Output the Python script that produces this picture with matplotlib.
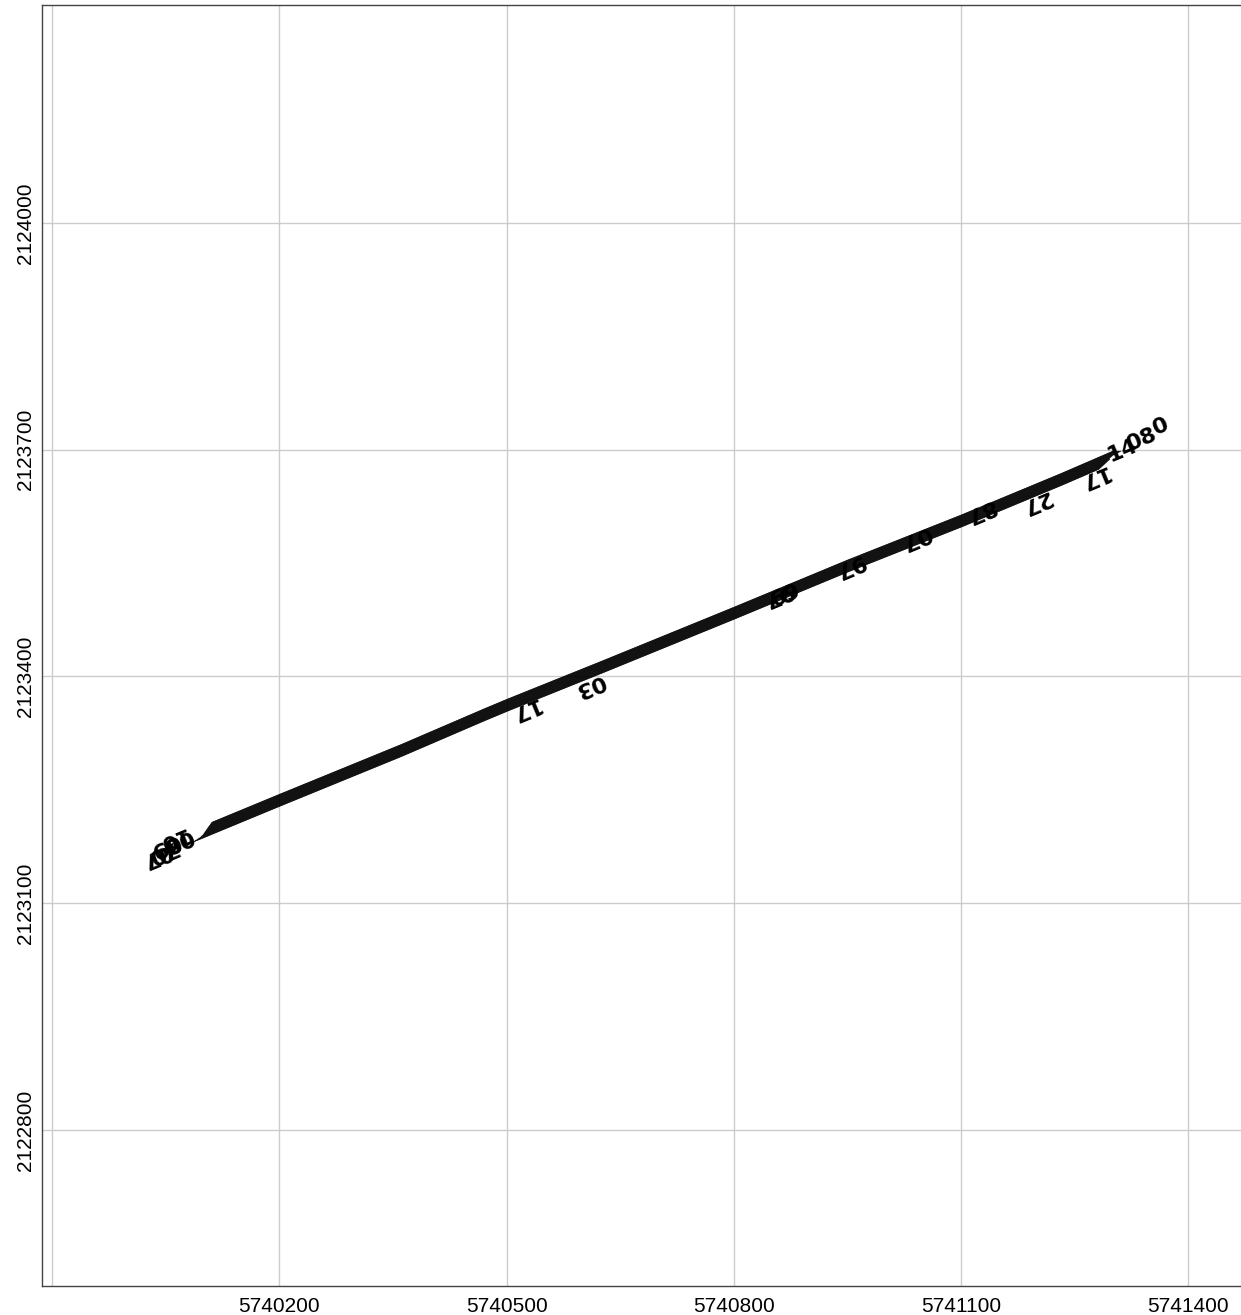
import numpy as np
import matplotlib
matplotlib.use("Agg")
import matplotlib.pyplot as plt

# Centre line of the bundle of survey lines
center_x = [5740077, 5740200, 5740361, 5740470, 5740501, 5740625, 5740801,
            5740950, 5741101, 5741233, 5741300]
center_y = [2123185, 2123236, 2123302, 2123349, 2123362, 2123412, 2123484,
            2123546, 2123606, 2123661, 2123690]

# Per-line offsets across the bundle (map units) and start / end eastings
line_offsets = [-8.0, -7.5, -7.0, -6.5, -6.0, -5.5, -5.0, -4.5, -4.0, -3.5,
                -3.0, -2.5, -2.0, -1.5, -1.0, -0.5, 0.0, 0.5, 1.0, 1.5,
                2.0, 2.5, 3.0, 3.5, 4.0, 4.5, 5.0, 5.5, 6.0, 6.5,
                7.0, 7.5, 8.0]
line_start_x = [5740083, 5740086, 5740089, 5740092, 5740094, 5740096, 5740097,
                5740098, 5740099, 5740100, 5740100, 5740101, 5740101, 5740102,
                5740102, 5740103, 5740103, 5740104, 5740104, 5740105, 5740105,
                5740106, 5740106, 5740107, 5740107, 5740108, 5740108, 5740109,
                5740109, 5740110, 5740110, 5740111, 5740111]
line_end_x = [5741282, 5741283, 5741284, 5741285, 5741286, 5741287, 5741288,
              5741289, 5741290, 5741291, 5741292, 5741293, 5741294, 5741295,
              5741296, 5741296, 5741295, 5741296, 5741297, 5741298, 5741299,
              5741300, 5741301, 5741302, 5741303, 5741304, 5741305, 5741306,
              5741307, 5741308, 5741309, 5741310, 5741311]

# Line labels (text, easting, northing, rotation)
label_text = ["07", "09", "10", "70", "08",
              "17", "03", "97", "69", "97", "07", "87", "27", "17",
              "14", "08", "0"]
label_x = [5740037, 5740048, 5740057, 5740044, 5740065,
           5740522, 5740608, 5740857, 5740862, 5740952, 5741039, 5741124, 5741198, 5741273,
           5741313, 5741339, 5741363]
label_y = [2123163, 2123177, 2123186, 2123168, 2123183,
           2123358, 2123388, 2123508, 2123512, 2123547, 2123584, 2123620, 2123631, 2123665,
           2123699, 2123713, 2123731]
label_rot = [202.6, 202.6, 202.6, 202.6, 202.6,
             202.6, 202.6, 202.6, 202.6, 202.6, 202.6, 202.6, 202.6, 202.6,
             22.6, 22.6, 22.6]

xticks = [5739900, 5740200, 5740500, 5740800, 5741100, 5741400]
xtick_labels = ["", "5740200", "5740500", "5740800", "5741100", "5741400"]
yticks = [2122800, 2123100, 2123400, 2123700, 2124000]
ytick_labels = ["2122800", "2123100", "2123400", "2123700", "2124000"]

fig = plt.figure(figsize=(12.41, 13.15), dpi=100)
ax = fig.add_axes([42 / 1241, 29 / 1315, 1 - 42 / 1241 + 0.002, (1315 - 5 - 29) / 1315])

cx = np.array(center_x, float)
cy = np.array(center_y, float)
for off, sx, ex in zip(line_offsets, line_start_x, line_end_x):
    mask = (cx > sx) & (cx < ex)
    xs = np.concatenate([[sx], cx[mask], [ex]])
    ys = np.interp(xs, cx, cy) + off
    ax.plot(xs, ys, color="black", lw=0.45, zorder=3)

for t, lx, ly, rot in zip(label_text, label_x, label_y, label_rot):
    ax.text(lx, ly, t, rotation=rot, rotation_mode="anchor", ha="center", va="center",
            fontsize=16, fontweight="bold", color="black", family="DejaVu Sans", zorder=4)

ax.set_xticks(xticks)
ax.set_xticklabels(xtick_labels, fontsize=15, family="Liberation Sans")
ax.set_yticks(yticks)
ax.set_yticklabels(ytick_labels, fontsize=15, family="Liberation Sans", rotation=90, va="center")
ax.set_xlim(5739886.8, 5741472.7)
ax.set_ylim(2122593.6, 2124288.4)
ax.tick_params(axis="x", length=0, pad=8)
ax.tick_params(axis="y", length=0, pad=5)
ax.grid(True, color="#cccccc", lw=1)
ax.set_axisbelow(True)
for s in ax.spines.values():
    s.set_color("#444444")
    s.set_linewidth(1)

fig.savefig("out.png", dpi=100)
